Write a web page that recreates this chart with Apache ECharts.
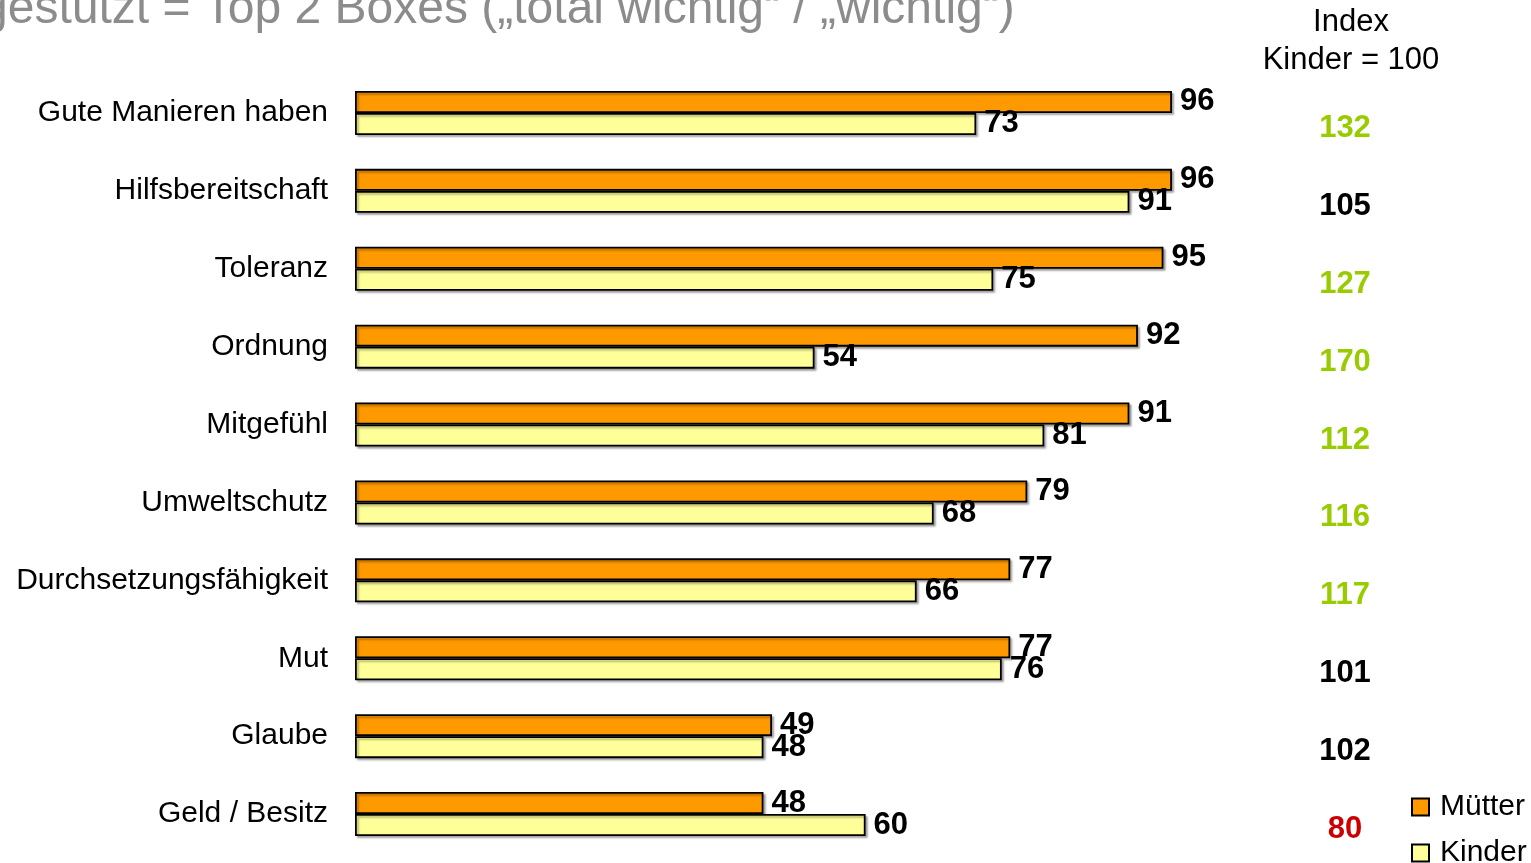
<!DOCTYPE html>
<html>
<head>
<meta charset="utf-8">
<title>Werte Mütter / Kinder</title>
<script src="https://cdn.jsdelivr.net/npm/echarts/dist/echarts.min.js"></script>
<style>
  html, body { margin: 0; padding: 0; background: #FFFFFF; }
  #chart { width: 1531px; height: 863px; }
</style>
</head>
<body>
<div id="chart"></div>
<script>
var categories = ['Gute Manieren haben', 'Hilfsbereitschaft', 'Toleranz', 'Ordnung', 'Mitgefühl',
  'Umweltschutz', 'Durchsetzungsfähigkeit', 'Mut', 'Glaube', 'Geld / Besitz']
var muetter = [96, 96, 95, 92, 91, 79, 77, 77, 49, 48]
var kinder = [73, 91, 75, 54, 81, 68, 66, 76, 48, 60]
var indexKinder = [132, 105, 127, 170, 112, 116, 117, 101, 102, 80]

var FONT = '"Liberation Sans", Arial, sans-serif'

// farbe des index: deutlich über 100 grün, deutlich unter 100 rot
function indexStyle(v) {
  if (v >= 110) return 'g'
  if (v <= 90) return 'r'
  return 'k'
}

var chart = echarts.init(document.getElementById('chart'))

var barStyle = function (color) {
  return {
    color: color,
    borderColor: '#000000',
    borderWidth: 1.8,
    shadowColor: 'rgba(0,0,0,0.3)',
    shadowBlur: 2,
    shadowOffsetX: 2,
    shadowOffsetY: 2
  }
}
var valueLabel = {
  show: true,
  position: 'right',
  distance: 8,
  color: '#000000',
  fontFamily: FONT,
  fontWeight: 'bold',
  fontSize: 31
}

var option = {
  animation: false,
  textStyle: { fontFamily: FONT },
  graphic: [
    {
      type: 'text',
      x: -19,
      y: 10,
      style: {
        text: 'gestützt = Top 2 Boxes („total wichtig“ / „wichtig“)',
        font: '48px ' + FONT,
        fill: '#8C8C8C',
        verticalAlign: 'middle'
      }
    },
    {
      type: 'text',
      x: 1351,
      y: 41,
      style: {
        text: 'Index\nKinder = 100',
        font: '31px ' + FONT,
        fill: '#000000',
        align: 'center',
        verticalAlign: 'middle',
        lineHeight: 38
      }
    }
  ],
  legend: {
    data: ['Mütter', 'Kinder'],
    orient: 'vertical',
    left: 1411,
    top: 792,
    height: 150,
    padding: 0,
    itemWidth: 17,
    itemHeight: 17,
    itemGap: 16,
    icon: 'rect',
    textStyle: { fontSize: 30, color: '#000000', fontFamily: FONT, padding: [0, 0, 0, 6] }
  },
  grid: {
    left: 355,
    right: 325,
    top: 74,
    bottom: 10,
    containLabel: false
  },
  xAxis: {
    type: 'value',
    min: 0,
    max: 100,
    show: false
  },
  yAxis: [
    {
      type: 'category',
      data: categories,
      inverse: true,
      axisLine: { show: false },
      axisTick: { show: false },
      axisLabel: {
        margin: 27,
        fontSize: 30,
        color: '#000000',
        fontFamily: FONT
      }
    },
    {
      type: 'category',
      data: categories,
      inverse: true,
      position: 'right',
      axisLine: { show: false },
      axisTick: { show: false },
      axisLabel: {
        margin: 139,
        align: 'center',
        verticalAlign: 'top',
        formatter: function (value, i) {
          var v = indexKinder[i]
          return '{' + indexStyle(v) + '|' + v + '}'
        },
        rich: {
          g: { color: '#99CC00', fontWeight: 'bold', fontSize: 31, fontFamily: FONT },
          k: { color: '#000000', fontWeight: 'bold', fontSize: 31, fontFamily: FONT },
          r: { color: '#CC0000', fontWeight: 'bold', fontSize: 31, fontFamily: FONT }
        }
      }
    }
  ],
  series: [
    {
      name: 'Mütter',
      type: 'bar',
      data: muetter,
      barWidth: 22,
      barGap: '0%',
      itemStyle: barStyle('#FF9900'),
      label: valueLabel
    },
    {
      name: 'Kinder',
      type: 'bar',
      data: kinder,
      barWidth: 22,
      barGap: '0%',
      itemStyle: barStyle('#FFFF99'),
      label: valueLabel
    }
  ]
}

chart.setOption(option)
</script>
</body>
</html>
